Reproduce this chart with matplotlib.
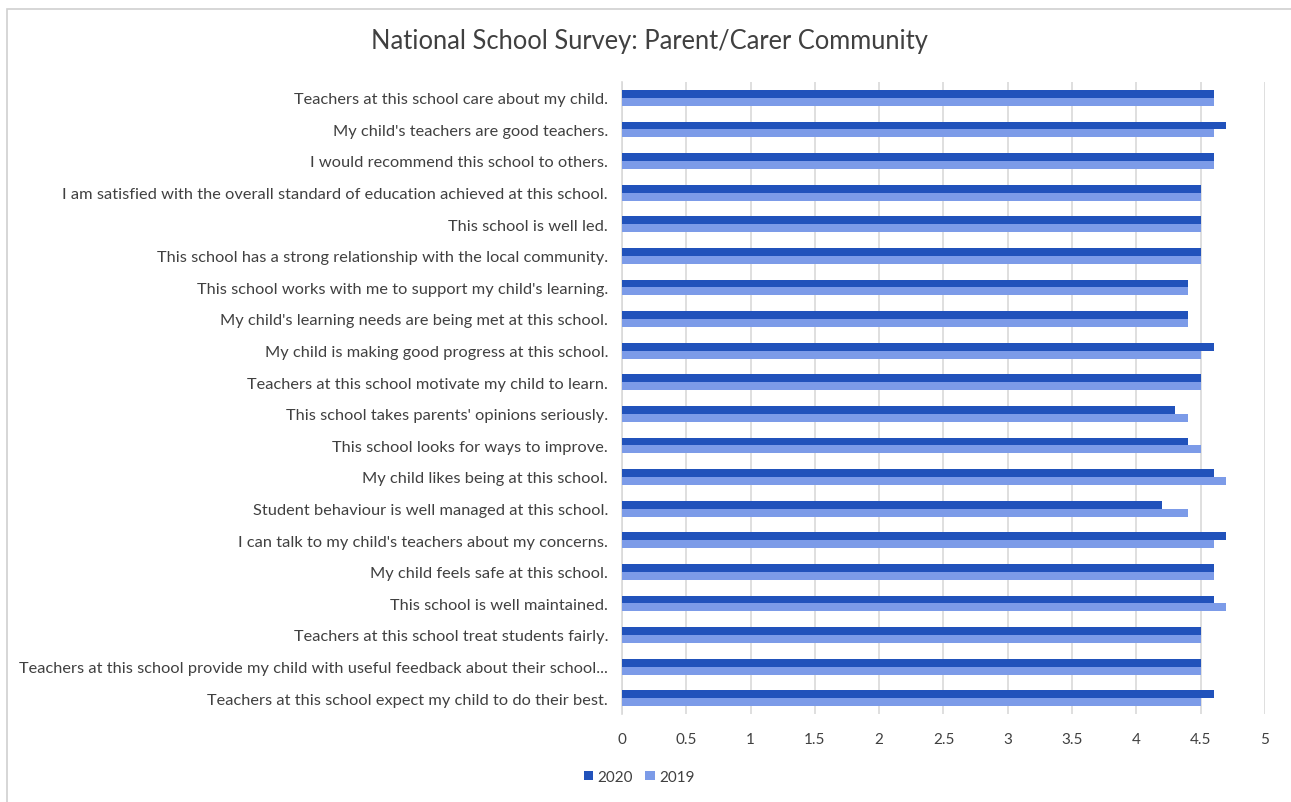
import matplotlib
matplotlib.use("Agg")
import matplotlib.pyplot as plt
import numpy as np
from matplotlib.patches import Rectangle

categories = [
    "Teachers at this school care about my child.",
    "My child's teachers are good teachers.",
    "I would recommend this school to others.",
    "I am satisfied with the overall standard of education achieved at this school.",
    "This school is well led.",
    "This school has a strong relationship with the local community.",
    "This school works with me to support my child's learning.",
    "My child's learning needs are being met at this school.",
    "My child is making good progress at this school.",
    "Teachers at this school motivate my child to learn.",
    "This school takes parents' opinions seriously.",
    "This school looks for ways to improve.",
    "My child likes being at this school.",
    "Student behaviour is well managed at this school.",
    "I can talk to my child's teachers about my concerns.",
    "My child feels safe at this school.",
    "This school is well maintained.",
    "Teachers at this school treat students fairly.",
    "Teachers at this school provide my child with useful feedback about their school...",
    "Teachers at this school expect my child to do their best.",
]
values_2020 = [4.6, 4.7, 4.6, 4.5, 4.5, 4.5, 4.4, 4.4, 4.6, 4.5,
               4.3, 4.4, 4.6, 4.2, 4.7, 4.6, 4.6, 4.5, 4.5, 4.6]
values_2019 = [4.6, 4.6, 4.6, 4.5, 4.5, 4.5, 4.4, 4.4, 4.5, 4.5,
               4.4, 4.5, 4.7, 4.4, 4.6, 4.6, 4.7, 4.5, 4.5, 4.5]
x_ticks = [0, 0.5, 1, 1.5, 2, 2.5, 3, 3.5, 4, 4.5, 5]
x_tick_labels = ["0", "0.5", "1", "1.5", "2", "2.5", "3", "3.5", "4", "4.5", "5"]

dark = "#2152BB"
light = "#7C9BE8"
text_color = "#404040"
grid_color = "#D9D9D9"

plt.rcParams["font.family"] = ["Lato", "DejaVu Sans"]

W, H = 1291, 803
fig = plt.figure(figsize=(W / 100, H / 100), dpi=100)

# light frame around the chart area
fig.patches.append(Rectangle((7 / W, -0.05), 1.2, (H - 10) / H + 0.05,
                             transform=fig.transFigure, fill=False,
                             edgecolor="#D0D0D0", linewidth=1.2))

left, right, top, bottom = 622, 1265, 83, 715
ax = fig.add_axes([left / W, 1 - bottom / H, (right - left) / W, (bottom - top) / H])

n = len(categories)
y = np.arange(n)
h = 0.25
ax.barh(y - h / 2, values_2020, height=h, color=dark, label="2020", zorder=3)
ax.barh(y + h / 2, values_2019, height=h, color=light, label="2019", zorder=3)

ax.set_ylim(n - 0.5, -0.5)
ax.set_xlim(0, 5)
ax.set_yticks(y)
ax.set_yticklabels(categories, fontsize=11.8, color=text_color)
ax.set_xticks(x_ticks)
ax.set_xticklabels(x_tick_labels, fontsize=11, color=text_color)
ax.tick_params(axis="y", length=0, pad=10)
ax.tick_params(axis="x", length=0, pad=13)

ax.grid(axis="x", color=grid_color, linewidth=1.2, zorder=0)
for s in ["top", "right", "bottom"]:
    ax.spines[s].set_visible(False)
ax.spines["left"].set_color(grid_color)
ax.spines["left"].set_linewidth(1.2)

fig.text(649 / W, 1 - 41 / H, "National School Survey: Parent/Carer Community",
         ha="center", va="center", fontsize=18.4, color=text_color)

leg = fig.legend(loc="center left", bbox_to_anchor=(584 / W, 1 - 778 / H),
                 ncol=2, frameon=False, fontsize=11, handlelength=0.6,
                 handleheight=0.6, handletextpad=0.3, columnspacing=0.8,
                 borderaxespad=0, borderpad=0)
for t in leg.get_texts():
    t.set_color(text_color)

fig.savefig("out.png", dpi=100, facecolor="white")
